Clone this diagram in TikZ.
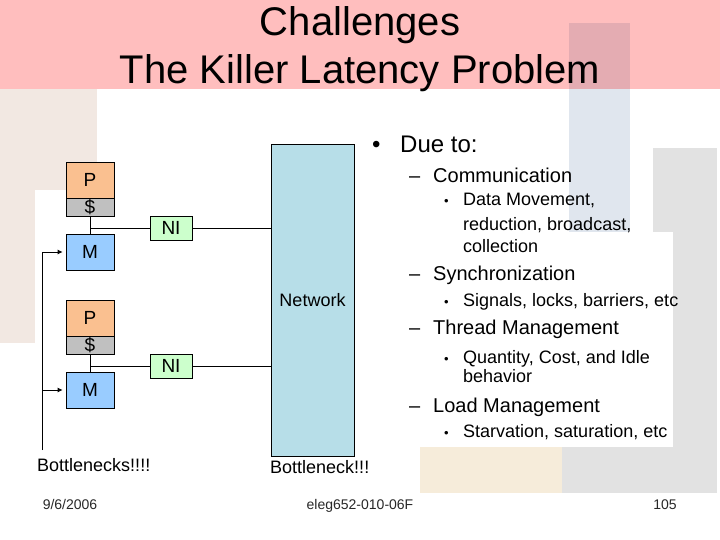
\documentclass[tikz,border=0pt]{standalone}
\usepackage{fontspec}
\setmainfont{Liberation Sans}
\usetikzlibrary{arrows.meta}
\definecolor{bandpink}{RGB}{255,190,190}
\definecolor{bandrose}{RGB}{228,172,178}
\definecolor{bookpeach}{RGB}{242,232,226}
\definecolor{bookblue}{RGB}{224,230,238}
\definecolor{bookgrey}{RGB}{226,226,226}
\definecolor{bookbeige}{RGB}{246,236,218}
\definecolor{pfill}{RGB}{250,192,144}
\definecolor{cfill}{RGB}{192,192,192}
\definecolor{mfill}{RGB}{153,204,255}
\definecolor{nifill}{RGB}{204,255,204}
\definecolor{netfill}{RGB}{183,222,232}
\definecolor{foot}{RGB}{40,40,40}
\begin{document}
\begin{tikzpicture}[x=1pt,y=-1pt,
  unit/.style={draw=black, line width=0.8pt, minimum width=48pt, inner sep=0pt, font=\fontsize{19}{19}\selectfont},
  nibox/.style={draw=black, line width=0.8pt, fill=nifill, minimum width=42pt, minimum height=24pt, inner sep=0pt, font=\fontsize{19}{19}\selectfont},
  wire/.style={draw=black, line width=0.8pt},
  feed/.style={draw=black, line width=0.8pt, -{Latex[length=5pt,width=5pt]}, shorten >=3pt},
  lvla/.style={anchor=base west, inner sep=0pt, font=\fontsize{24}{24}\selectfont},
  lvlb/.style={anchor=base west, inner sep=0pt, font=\fontsize{20}{20}\selectfont},
  lvlc/.style={anchor=base west, inner sep=0pt, font=\fontsize{18}{18}\selectfont},
  smalldot/.style={anchor=base west, inner sep=0pt, font=\fontsize{13}{13}\selectfont},
  footer/.style={anchor=base, inner sep=0pt, text=foot, font=\fontsize{14}{14}\selectfont},
  bneck/.style={anchor=west, inner sep=0pt, font=\fontsize{18}{18}\selectfont}
]
\useasboundingbox (0,0) rectangle (720,540);
% faint background
\fill[white] (0,0) rectangle (720,540);
\fill[bookpeach] (0,89) rectangle (97,190);
\fill[bookpeach] (0,190) rectangle (35,343);
\fill[bookblue] (569,89) rectangle (630,232);
\fill[bookgrey] (653,148) rectangle (717,493);
\fill[bookgrey] (562,447) rectangle (717,493);
\fill[bookbeige] (420,447) rectangle (562,493);
\fill[white] (420,232) rectangle (673,447);
\fill[bandpink] (0,0) rectangle (720,89);
\fill[bandrose] (569,23) rectangle (630,89);
% title
\node[anchor=base, inner sep=0pt, font=\fontsize{40}{40}\selectfont] (t1) at (360,36) {Challenges};
\node[anchor=base, inner sep=0pt, font=\fontsize{40}{40}\selectfont] (t2) at (360,84) {The Killer Latency Problem};
% network
\node[draw=black, line width=0.8pt, fill=netfill, minimum width=83pt, minimum height=312pt, inner sep=0pt, font=\fontsize{18}{18}\selectfont] (net) at (312.5,300) {Network};
% node 1
\node[unit, fill=pfill, minimum height=36pt] (p1) at (90,180) {P};
\node[unit, fill=cfill, minimum height=18pt] (c1) at (90,207) {\$};
\node[unit, fill=mfill, minimum height=36pt] (m1) at (90,252) {M};
\node[nibox] (ni1) at (171,228) {NI};
% node 2
\node[unit, fill=pfill, minimum height=36pt] (p2) at (90,318) {P};
\node[unit, fill=cfill, minimum height=18pt] (c2) at (90,345) {\$};
\node[unit, fill=mfill, minimum height=36pt] (m2) at (90,390) {M};
\node[nibox] (ni2) at (171,366) {NI};
% wires
\coordinate (j1) at (90,228);
\coordinate (j2) at (90,366);
\draw[wire] (c1.south) -- (m1.north);
\draw[wire] (j1) -- (ni1.west);
\draw[wire] (ni1.east) -- (ni1.east -| net.west);
\draw[wire] (c2.south) -- (m2.north);
\draw[wire] (j2) -- (ni2.west);
\draw[wire] (ni2.east) -- (ni2.east -| net.west);
% feedback
\coordinate (fb) at (42,450);
\coordinate (fa) at (42,390);
\draw[feed] (fb) |- (m1.west);
\draw[feed] (fa) -- (m2.west);
% bottleneck labels
\node[bneck] (bl) at (37,465) {Bottlenecks!!!!};
\node[bneck] (br) at (270,467) {Bottleneck!!!};
% bullets
\node[lvla] (d0) at (372,153) {•};
\node[lvla] (d1) at (400,153) {Due to:};
\node[lvlb] (e1) at (409,183) {–};
\node[lvlb] (s1) at (433,183) {Communication};
\node[smalldot] (b1) at (444,206) {•};
\node[lvlc] (s1a) at (463,206) {Data Movement,};
\node[lvlc] (s1b) at (463,230) {reduction, broadcast,};
\node[lvlc] (s1c) at (463,252) {collection};
\node[lvlb] (e2) at (409,280) {–};
\node[lvlb] (s2) at (433,280) {Synchronization};
\node[smalldot] (b2) at (444,306) {•};
\node[lvlc] (s2a) at (463,306) {Signals, locks, barriers, etc};
\node[lvlb] (e3) at (409,334) {–};
\node[lvlb] (s3) at (433,334) {Thread Management};
\node[smalldot] (b3) at (444,363) {•};
\node[lvlc] (s3a) at (463,363) {Quantity, Cost, and Idle};
\node[lvlc] (s3b) at (463,382) {behavior};
\node[lvlb] (e4) at (409,412) {–};
\node[lvlb] (s4) at (433,412) {Load Management};
\node[smalldot] (b4) at (444,437) {•};
\node[lvlc] (s4a) at (463,437) {Starvation, saturation, etc};
% footer
\node[footer] (f1) at (70,509) {9/6/2006};
\node[footer] (f2) at (360,509) {eleg652-010-06F};
\node[footer] (f3) at (665,509) {105};
\end{tikzpicture}
\end{document}
